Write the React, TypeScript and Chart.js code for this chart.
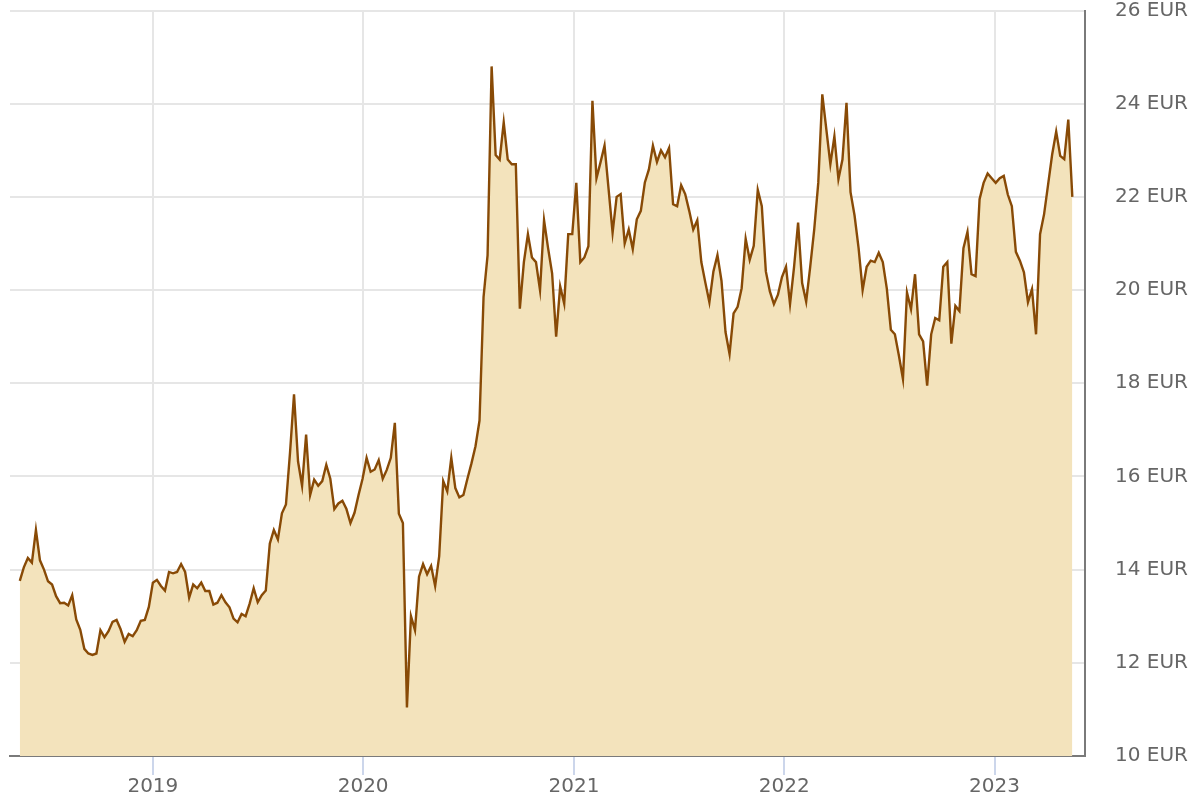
import { useEffect, useRef } from "react";
import { Chart, registerables } from "chart.js";

Chart.register(...registerables);

// weekly silver price in EUR, first week starts 2018-05-15
const firstWeek = "2018-05-15";
const axisStart = "2018-04-28";
const axisEnd = "2023-06-07";
const yearTicks = [2019, 2020, 2021, 2022, 2023];
const priceMin = 10;
const priceMax = 26;
const priceStep = 2;

const weeklyPrices = [
  13.76, 14.05, 14.25, 14.15, 14.85, 14.2, 14.0, 13.75, 13.68, 13.43,
  13.28, 13.29, 13.23, 13.45, 12.93, 12.71, 12.3, 12.2, 12.17, 12.2,
  12.7, 12.55, 12.68, 12.88, 12.92, 12.72, 12.45, 12.62, 12.57, 12.7,
  12.9, 12.92, 13.2, 13.72, 13.78, 13.65, 13.55, 13.95, 13.92, 13.95,
  14.12, 13.95, 13.4, 13.68, 13.6, 13.72, 13.54, 13.54, 13.25, 13.29,
  13.45, 13.3, 13.19, 12.95, 12.87, 13.05, 13.0, 13.27, 13.6, 13.3,
  13.45, 13.55, 14.56, 14.85, 14.65, 15.21, 15.4, 16.5, 17.76, 16.32,
  15.8, 16.9, 15.6, 15.93, 15.8, 15.9, 16.25, 15.95, 15.3, 15.42,
  15.48, 15.3, 15.0, 15.22, 15.6, 15.95, 16.4, 16.1, 16.15, 16.35,
  15.95, 16.14, 16.4, 17.15, 15.2, 15.0, 11.04, 13.0, 12.7, 13.85,
  14.12, 13.9, 14.08, 13.65, 14.29, 15.9, 15.68, 16.4, 15.75, 15.55,
  15.6, 15.95, 16.28, 16.65, 17.2, 19.85, 20.75, 24.8, 22.9, 22.8,
  23.6, 22.8, 22.7, 22.7, 19.6, 20.6, 21.2, 20.7, 20.6, 20.0,
  21.5, 20.9, 20.36, 19.0, 20.08, 19.71, 21.2, 21.2, 22.3, 20.6,
  20.7, 20.94, 24.06, 22.4, 22.74, 23.1, 22.17, 21.23, 22.0, 22.06,
  21.0, 21.3, 20.88, 21.52, 21.7, 22.31, 22.59, 23.1, 22.75, 23.0,
  22.85, 23.05, 21.84, 21.8, 22.25, 22.06, 21.7, 21.3, 21.5, 20.6,
  20.16, 19.74, 20.4, 20.75, 20.2, 19.1, 18.63, 19.5, 19.64, 20.04,
  21.1, 20.65, 20.95, 22.15, 21.8, 20.4, 19.97, 19.7, 19.9, 20.28,
  20.5, 19.7, 20.5, 21.45, 20.15, 19.75, 20.5, 21.3, 22.3, 24.2,
  23.45, 22.7, 23.3, 22.38, 22.8, 24.02, 22.1, 21.6, 20.9, 20.0,
  20.5, 20.63, 20.6, 20.8, 20.6, 20.03, 19.15, 19.05, 18.59, 18.09,
  19.95, 19.59, 20.34, 19.05, 18.9, 17.95, 19.05, 19.4, 19.35, 20.5,
  20.6, 18.85, 19.66, 19.55, 20.9, 21.25, 20.34, 20.3, 21.95, 22.3,
  22.5, 22.4, 22.3, 22.4, 22.45, 22.05, 21.8, 20.82, 20.63, 20.38,
  19.74, 20.02, 19.05, 21.2, 21.63, 22.27, 22.91, 23.4, 22.88, 22.81,
  23.66, 22.0,
];

const DAY = 24 * 60 * 60 * 1000;

export default function SilverChart() {
  const chartRef = useRef<HTMLCanvasElement>(null);
  const chartInstanceRef = useRef<Chart | null>(null);

  useEffect(() => {
    document.body.style.margin = "0";
    if (!chartRef.current) return;

    if (chartInstanceRef.current) {
      chartInstanceRef.current.destroy();
    }

    const ctx = chartRef.current.getContext("2d");
    if (!ctx) return;

    const start = Date.parse(firstWeek);
    const points = weeklyPrices.map((price, i) => ({ x: start + i * 7 * DAY, y: price }));
    const font = { family: "'DejaVu Sans', sans-serif", size: 20 };

    chartInstanceRef.current = new Chart(ctx, {
      type: "line",
      data: {
        datasets: [
          {
            data: points,
            borderColor: "#884a06",
            borderWidth: 2.4,
            backgroundColor: "#f3e3bc",
            fill: "start",
            pointRadius: 0,
            tension: 0,
          },
        ],
      },
      options: {
        animation: false,
        responsive: true,
        maintainAspectRatio: false,
        layout: { padding: { left: 10, bottom: 1, top: 0, right: 0 } },
        plugins: {
          legend: { display: false },
          tooltip: { enabled: false },
        },
        scales: {
          x: {
            type: "linear",
            min: Date.parse(axisStart),
            max: Date.parse(axisEnd),
            afterBuildTicks: (scale) => {
              scale.ticks = yearTicks.map((y) => ({ value: Date.UTC(y, 0, 1) }));
            },
            ticks: {
              color: "#666666",
              font,
              padding: 0,
              maxRotation: 0,
              callback: (v) => String(new Date(Number(v)).getUTCFullYear()),
            },
            grid: {
              color: "#e6e6e6",
              tickColor: "#ccd6eb",
              tickLength: 19,
              lineWidth: 2,
            },
            border: { display: true, color: "#7a7a7a", width: 2 },
          },
          y: {
            position: "right",
            min: priceMin,
            max: priceMax,
            afterFit: (scale) => {
              scale.width = 115;
              scale.paddingTop = 10.5;
            },
            ticks: {
              stepSize: priceStep,
              color: "#666666",
              font,
              padding: 30,
              callback: (v) => `${v} EUR`,
            },
            grid: {
              color: "#e6e6e6",
              drawTicks: false,
              lineWidth: 2,
            },
            border: { display: true, color: "#7a7a7a", width: 2 },
          },
        },
      },
    });

    return () => {
      if (chartInstanceRef.current) {
        chartInstanceRef.current.destroy();
        chartInstanceRef.current = null;
      }
    };
  }, []);

  return (
    <div style={{ position: "relative", width: 1200, height: 800 }}>
      <canvas ref={chartRef}></canvas>
    </div>
  );
}
